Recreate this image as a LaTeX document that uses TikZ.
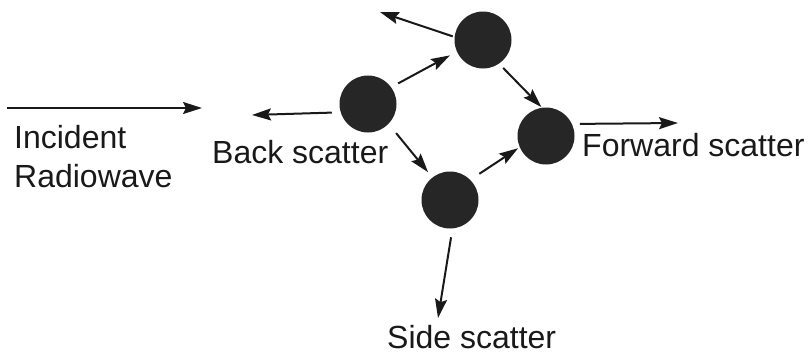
\documentclass[tikz,border=0pt]{standalone}
\usepackage{fontspec}
\setmainfont{Liberation Sans}
\usetikzlibrary{arrows.meta}
\begin{document}
\begin{tikzpicture}[x=1pt,y=-1pt,
  particle/.style={circle,fill=black!85,draw=none,minimum size=57pt,inner sep=0pt,outer sep=0pt},
  ray/.style={draw=black!90,line width=2pt,-{Stealth[length=19pt,width=12pt,inset=3pt]}},
  lbl/.style={font=\fontsize{32}{37}\selectfont,text=black!90,anchor=base west,inner sep=0pt}]
\useasboundingbox (0,0) rectangle (808,354);
\node[particle] (A) at (368,104) {};
\node[particle] (B) at (483,40) {};
\node[particle] (C) at (546,136) {};
\node[particle] (D) at (450,200) {};
\coordinate (inS) at (7,108);
\coordinate (inE) at (202,108);
\coordinate (backE) at (252,115);
\coordinate (upE) at (380,12);
\coordinate (fwdE) at (678,123);
\coordinate (sideE) at (438,318);
\draw[ray] (inS) -- (inE);
\draw[ray,shorten <=9pt] (A.197) -- (backE);
\draw[ray,shorten <=8pt,shorten >=8pt] (A.36) -- (B.204);
\draw[ray,shorten <=2pt] (B.174) -- (upE);
\draw[ray,shorten <=6pt,shorten >=1pt] (B.-56) -- (C.98);
\draw[ray,shorten <=12pt,shorten >=7pt] (A.-44) -- (D.128);
\draw[ray,shorten <=11pt,shorten >=2pt] (D.45) -- (C.203);
\draw[ray,shorten <=8pt] (C.25) -- (fwdE);
\draw[ray,shorten <=9pt] (D.-85) -- (sideE);
\node[lbl] (t1) at (14,148) {Incident};
\node[lbl] (t2) at (14,187) {Radiowave};
\node[lbl] (t3) at (212,163) {Back scatter};
\node[lbl] (t4) at (582,156) {Forward scatter};
\node[lbl] (t5) at (387,348) {Side scatter};
\end{tikzpicture}
\end{document}
